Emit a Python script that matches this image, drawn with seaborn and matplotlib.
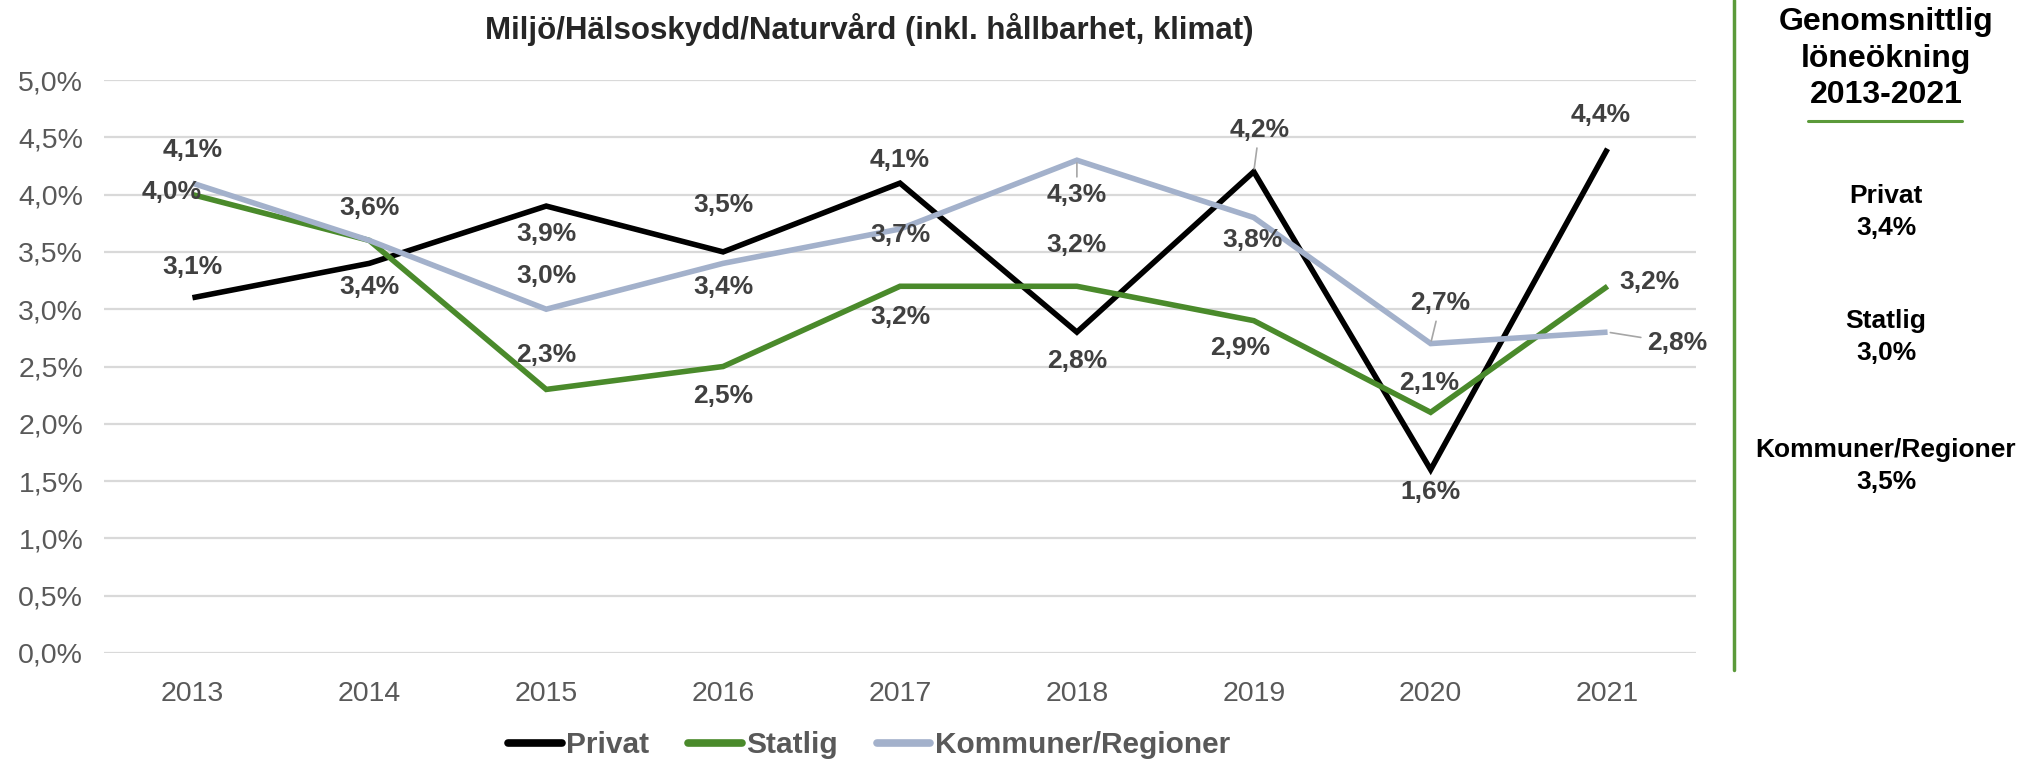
import matplotlib
matplotlib.use("Agg")
import matplotlib.pyplot as plt
import matplotlib.lines as mlines
from matplotlib.ticker import FuncFormatter, MultipleLocator
import seaborn as sns
import pandas as pd

# ---------------- data ----------------
years = [2013, 2014, 2015, 2016, 2017, 2018, 2019, 2020, 2021]
privat = [3.1, 3.4, 3.9, 3.5, 4.1, 2.8, 4.2, 1.6, 4.4]
statlig = [4.0, 3.6, 2.3, 2.5, 3.2, 3.2, 2.9, 2.1, 3.2]
kommuner = [4.1, 3.6, 3.0, 3.4, 3.7, 4.3, 3.8, 2.7, 2.8]
series_names = ["Privat", "Statlig", "Kommuner/Regioner"]
averages = [3.4, 3.0, 3.5]
title = "Miljö/Hälsoskydd/Naturvård (inkl. hållbarhet, klimat)"
side_title = ["Genomsnittlig", "löneökning", "2013-2021"]

# ---------------- style ----------------
sns.set_style("white")
plt.rcParams["font.family"] = ["Liberation Sans", "DejaVu Sans"]

colors = {"Privat": "#000000", "Statlig": "#4A8A2B", "Kommuner/Regioner": "#A3B1CB"}

# label offsets in points (dx, dy); None = no label (shared)
offsets = {
    "Privat": [(0, 22), (0, -17), (0, -20), (0, 34), (0, 17), (0, -21), (4, 30), (0, -16), (-5, 24)],
    "Statlig": [(-15, 2), None, (0, 25), (0, -21), (0, -22), (0, 30), (-10, -20), (-1, 21), (30, 3)],
    "Kommuner/Regioner": [(0, 24), (0, 23), (0, 24), (0, -17), (0, -4), (0, -25), (-1, -16), (7, 29), (50, -8)],
}
leaders = {("Privat", 6), ("Kommuner/Regioner", 5), ("Kommuner/Regioner", 7), ("Kommuner/Regioner", 8)}

def pct(v):
    return f"{v:.1f}%".replace(".", ",")

df = pd.DataFrame({
    "År": years * 3,
    "Värde": privat + statlig + kommuner,
    "Sektor": [series_names[0]] * len(years) + [series_names[1]] * len(years) + [series_names[2]] * len(years),
})

W, H = 2040, 761
fig = plt.figure(figsize=(W / 100, H / 100), dpi=100)
ax = fig.add_axes([104 / W, 1 - 653 / H, (1696 - 104) / W, (653 - 80) / H])

sns.lineplot(data=df, x="År", y="Värde", hue="Sektor", hue_order=series_names,
             palette=colors, linewidth=4.0, ax=ax, legend=False, sort=False)
for ln in ax.lines:
    ln.set_solid_joinstyle("miter")
    ln.set_solid_capstyle("butt")

ax.set_xlim(years[0] - 0.5, years[-1] + 0.5)
ax.set_ylim(0, 5.0)
ax.yaxis.set_major_locator(MultipleLocator(0.5))
ax.yaxis.set_major_formatter(FuncFormatter(lambda v, p: pct(v)))
ax.set_xticks(years)
ax.set_xticklabels([str(y) for y in years])
ax.grid(axis="y", color="#D9D9D9", linewidth=1.6)
ax.grid(axis="x", visible=False)
ax.set_axisbelow(True)
for s in ax.spines.values():
    s.set_visible(False)
ax.tick_params(axis="both", length=0, labelsize=20.5, colors="#595959")
ax.tick_params(axis="x", pad=20)
ax.tick_params(axis="y", pad=15)
ax.set_xlabel("")
ax.set_ylabel("")

# data labels
data_map = {"Privat": privat, "Statlig": statlig, "Kommuner/Regioner": kommuner}
for name in series_names:
    vals = data_map[name]
    for i, (x, v) in enumerate(zip(years, vals)):
        off = offsets[name][i]
        if off is None:
            continue
        kw = {}
        if (name, i) in leaders:
            kw["arrowprops"] = dict(arrowstyle="-", color="#A6A6A6", lw=1.2, shrinkA=2, shrinkB=2)
        ax.annotate(pct(v), xy=(x, v), xytext=off, textcoords="offset points",
                    ha="center", va="center", fontsize=19, fontweight="bold",
                    color="#404040", **kw)

# title
fig.text(869 / W, 1 - 29 / H, title, ha="center", va="center",
         fontsize=22.5, fontweight="bold", color="#262626")

# legend
handles = [mlines.Line2D([], [], color=colors[n], linewidth=5.5, solid_capstyle="round") for n in series_names]
leg = fig.legend(handles, series_names, loc="center", bbox_to_anchor=(869 / W, 1 - 745 / H),
                 ncol=3, frameon=False, handlelength=1.8, handletextpad=0.15, columnspacing=1.3,
                 prop={"size": 21.5, "weight": "bold"})
for t in leg.get_texts():
    t.set_color("#595959")

# side panel
fig.add_artist(mlines.Line2D([1734 / W, 1734 / W], [1.0, 1 - 670 / H],
                             transform=fig.transFigure, color="#5B9A3A", linewidth=2.5))
cx = 1886 / W
for txt, y in zip(side_title, [22, 59, 95]):
    fig.text(cx, 1 - y / H, txt, ha="center", va="center", fontsize=23,
             fontweight="bold", color="#000000")
fig.add_artist(mlines.Line2D([1808 / W, 1962 / W], [1 - 121 / H, 1 - 121 / H],
                             transform=fig.transFigure, color="#5B9A3A", linewidth=2.2))
for name, avg, y in zip(series_names, averages, [196, 321, 450]):
    fig.text(cx, 1 - y / H, name, ha="center", va="center", fontsize=19,
             fontweight="bold", color="#000000")
    fig.text(cx, 1 - (y + 32) / H, pct(avg), ha="center", va="center", fontsize=19,
             fontweight="bold", color="#000000")

fig.savefig("out.png", dpi=100)
